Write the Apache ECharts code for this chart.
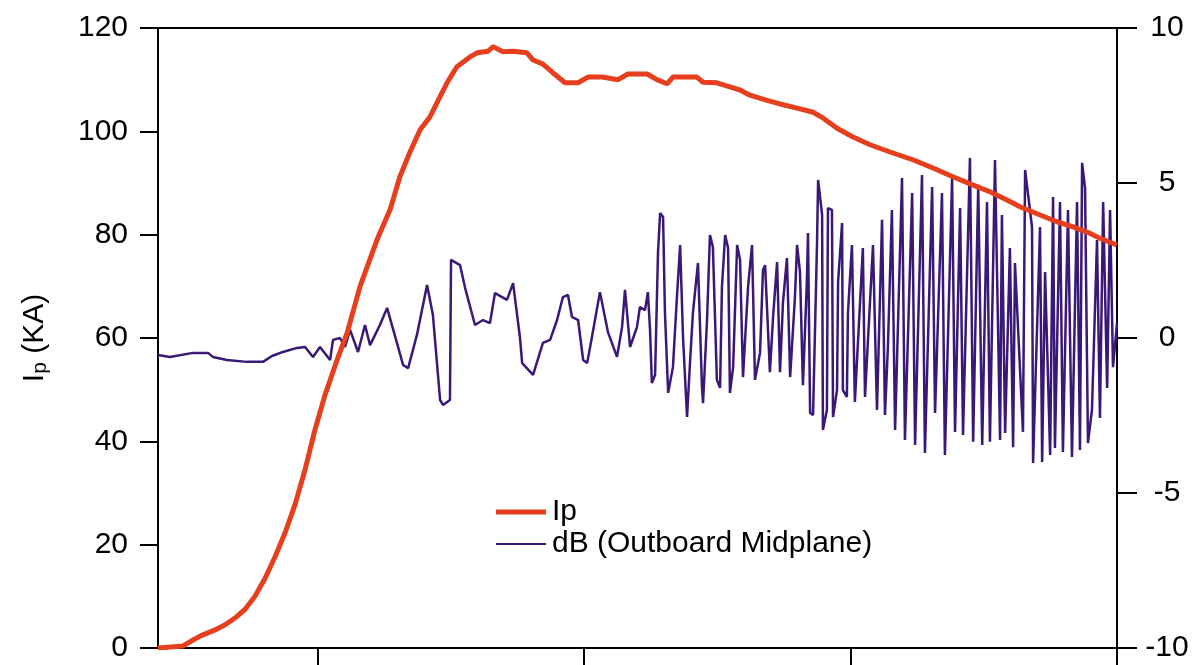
<!DOCTYPE html>
<html>
<head>
<meta charset="utf-8">
<script src="https://cdn.jsdelivr.net/npm/echarts@6/dist/echarts.min.js"></script>
<style>html,body{margin:0;padding:0;background:#fff;}#c{width:1193px;height:665px;}</style>
</head>
<body>
<div id="c"></div>
<script>
// time (ms) and plasma current Ip (kA)
var ipTime = [0.400,0.494,0.520,0.558,0.614,0.652,0.689,0.727,0.764,0.802,0.839,0.877,0.914,0.952,0.989,1.027,1.072,1.110,1.158,1.222,1.271,1.308,1.346,1.384,1.421,1.447,1.485,1.522,1.571,1.598,1.639,1.658,1.695,1.733,1.785,1.808,1.845,1.883,1.928,1.977,2.014,2.067,2.127,2.164,2.236,2.273,2.311,2.333,2.423,2.446,2.498,2.547,2.585,2.622,2.686,2.735,2.799,2.859,2.896,2.949,3.009,3.073,3.148,3.234,3.309,3.384,3.460,3.523,3.587,3.636,3.711,3.775,3.835,3.888,3.936,4.000];
var ipValues = [0,0.4,1.2,2.3,3.5,4.5,5.8,7.5,10.0,13.5,17.6,22.3,27.7,34.5,42.2,49.0,55.7,61.0,69.9,79.0,84.8,91.2,96.0,100.3,102.8,105.5,109.4,112.5,114.4,115.2,115.5,116.4,115.4,115.5,115.2,113.8,113.0,111.3,109.4,109.4,110.5,110.5,110.0,111.1,111.1,110.0,109.2,110.5,110.5,109.5,109.4,108.6,108.0,107.0,106.0,105.3,104.5,103.7,102.6,100.6,98.9,97.4,96.0,94.5,92.9,91.2,89.6,88.3,86.7,85.4,83.8,82.5,81.5,80.5,79.3,78.0];

// time (ms) and magnetic probe signal dB (outboard midplane)
var dbTime = [0.400,0.445,0.531,0.588,0.606,0.659,0.734,0.794,0.828,0.869,0.922,0.952,0.982,1.008,1.046,1.057,1.083,1.102,1.121,1.151,1.177,1.196,1.233,1.260,1.297,1.320,1.339,1.372,1.410,1.432,1.459,1.470,1.496,1.500,1.534,1.553,1.590,1.620,1.646,1.665,1.710,1.733,1.759,1.767,1.808,1.845,1.872,1.898,1.920,1.939,1.954,1.977,1.996,2.011,2.029,2.059,2.089,2.123,2.142,2.153,2.172,2.198,2.209,2.228,2.239,2.247,2.254,2.266,2.277,2.285,2.296,2.303,2.315,2.333,2.348,2.360,2.371,2.386,2.397,2.408,2.427,2.442,2.446,2.461,2.472,2.483,2.498,2.510,2.517,2.529,2.540,2.547,2.559,2.574,2.585,2.596,2.615,2.630,2.641,2.660,2.671,2.679,2.697,2.709,2.724,2.735,2.746,2.761,2.773,2.791,2.799,2.810,2.821,2.836,2.840,2.848,2.859,2.874,2.878,2.893,2.896,2.911,2.915,2.930,2.934,2.949,2.953,2.968,2.971,2.986,2.990,3.005,3.016,3.046,3.054,3.084,3.099,3.118,3.129,3.140,3.155,3.167,3.193,3.204,3.231,3.242,3.268,3.279,3.306,3.317,3.343,3.354,3.381,3.392,3.411,3.422,3.448,3.460,3.479,3.494,3.512,3.523,3.542,3.561,3.568,3.580,3.598,3.610,3.617,3.647,3.655,3.681,3.685,3.711,3.719,3.730,3.749,3.760,3.767,3.786,3.797,3.816,3.831,3.850,3.861,3.869,3.880,3.891,3.906,3.925,3.936,3.948,3.963,3.974,3.985,4.000];
var dbValues = [-0.55,-0.61,-0.48,-0.48,-0.61,-0.71,-0.77,-0.77,-0.58,-0.45,-0.32,-0.29,-0.61,-0.29,-0.71,-0.06,0,-0.29,0.26,-0.45,0.42,-0.23,0.42,0.97,-0.16,-0.87,-0.97,0.10,1.71,0.74,-2.00,-2.16,-2.00,2.52,2.35,1.61,0.42,0.58,0.48,1.45,1.23,1.77,0,-0.81,-1.19,-0.16,-0.06,0.58,1.32,1.39,0.68,0.58,-0.71,-0.81,0.03,1.48,0.19,-0.61,0.35,1.55,-0.29,0.35,1.00,0.90,1.48,0.26,-1.45,-1.19,2.77,4.03,3.90,0.84,-1.77,-0.94,1.32,3.00,0,-2.55,-0.81,0.81,2.42,-1.58,-2.10,0.58,3.32,2.94,-1.35,-1.61,1.65,3.32,2.90,-1.77,-0.94,3.00,2.52,-1.26,1.65,3.00,-1.35,-0.48,2.19,2.35,-1.10,0.68,2.45,-1.10,1.13,2.58,-1.26,1.32,3.00,2.13,-1.52,1.87,3.39,-2.42,-2.48,3.10,5.10,3.97,-2.97,-2.32,4.19,4.13,-2.55,-1.68,1.81,3.71,-1.68,-1.90,0.81,3.00,-2.06,2.90,-1.90,3.00,-2.32,3.81,-2.48,-0.29,4.13,-2.97,5.16,-3.29,4.68,-3.45,5.26,-3.71,4.87,-2.42,4.68,-3.77,5.16,-3.03,4.19,-3.13,5.81,-3.35,4.94,-3.45,4.39,-3.35,5.74,-3.29,3.97,-3.06,2.90,-3.52,2.42,-3.03,5.42,3.58,-4.03,3.58,-4.00,2.13,-3.77,4.55,-3.55,4.39,-3.68,4.13,-3.84,4.39,-3.61,5.65,4.84,-3.39,-2.32,3.16,-2.58,4.39,-1.61,4.13,-0.94,0.48];

var xTicks = [1, 2, 3, 4];
var leftTicks = [0, 20, 40, 60, 80, 100, 120];
var rightTicks = [-10, -5, 0, 5, 10];

var ipData = ipTime.map(function (t, i) { return [t, ipValues[i]]; });
var dbData = dbTime.map(function (t, i) { return [t, dbValues[i]]; });

var FONT = 'Liberation Sans, Arial, sans-serif';
var RED = '#E63F1E';
var PURPLE = '#3A1878';

var chart = echarts.init(document.getElementById('c'), null, { renderer: 'canvas' });
chart.setOption({
  animation: false,
  backgroundColor: '#fff',
  grid: { left: 158, right: 76, top: 28, bottom: 17, show: true, borderColor: '#000', borderWidth: 2, containLabel: false },
  legend: [
    {
      data: [{ name: 'Ip', icon: 'rect' }],
      left: 491, top: 491, orient: 'vertical',
      itemWidth: 50, itemHeight: 5,
      textStyle: { fontFamily: FONT, fontSize: 30, color: '#000', lineHeight: 32, padding: [0, 0, 0, 1] }
    },
    {
      data: [{ name: 'dB (Outboard Midplane)', icon: 'rect' }],
      left: 491, top: 523, orient: 'vertical',
      itemWidth: 50, itemHeight: 2,
      textStyle: { fontFamily: FONT, fontSize: 30, color: '#000', lineHeight: 32, padding: [0, 0, 0, 1] }
    }
  ],
  xAxis: {
    type: 'value', min: 0.4, max: 4.0,
    axisLine: { show: true, lineStyle: { color: '#000', width: 2 } },
    axisTick: { show: true, length: 17, lineStyle: { color: '#000', width: 2 }, customValues: xTicks },
    axisLabel: { show: false, customValues: xTicks },
    splitLine: { show: false }
  },
  yAxis: [
    {
      type: 'value', min: 0, max: 120, interval: 20, position: 'left',
      name: '{i|I}{s|p}{i| (KA)}',
      nameLocation: 'middle', nameRotate: 90, nameGap: 107,
      nameTextStyle: {
        rich: {
          i: { fontFamily: FONT, fontSize: 30, color: '#000' },
          s: { fontFamily: FONT, fontSize: 21, color: '#000', padding: [12, 0, 0, 0] }
        }
      },
      axisLine: { show: true, lineStyle: { color: '#000', width: 2 } },
      axisTick: { show: true, length: 18, lineStyle: { color: '#000', width: 2 } },
      axisLabel: { fontFamily: FONT, fontSize: 30, color: '#000', margin: 30 },
      splitLine: { show: false }
    },
    {
      type: 'value', min: -10, max: 10, interval: 5, position: 'right',
      axisLine: { show: true, lineStyle: { color: '#000', width: 2 } },
      axisTick: { show: true, length: 20, lineStyle: { color: '#000', width: 2 } },
      axisLabel: { fontFamily: FONT, fontSize: 30, color: '#000', margin: 50, align: 'center' },
      splitLine: { show: false }
    }
  ],
  series: [
    {
      name: 'dB (Outboard Midplane)', type: 'line', yAxisIndex: 1, data: dbData,
      showSymbol: false, symbol: 'none', smooth: false,
      lineStyle: { color: PURPLE, width: 2.5 }, itemStyle: { color: PURPLE }, z: 2
    },
    {
      name: 'Ip', type: 'line', yAxisIndex: 0, data: ipData,
      showSymbol: false, symbol: 'none', smooth: false,
      lineStyle: { color: RED, width: 5 }, itemStyle: { color: RED }, z: 3
    }
  ]
});
</script>
</body>
</html>
